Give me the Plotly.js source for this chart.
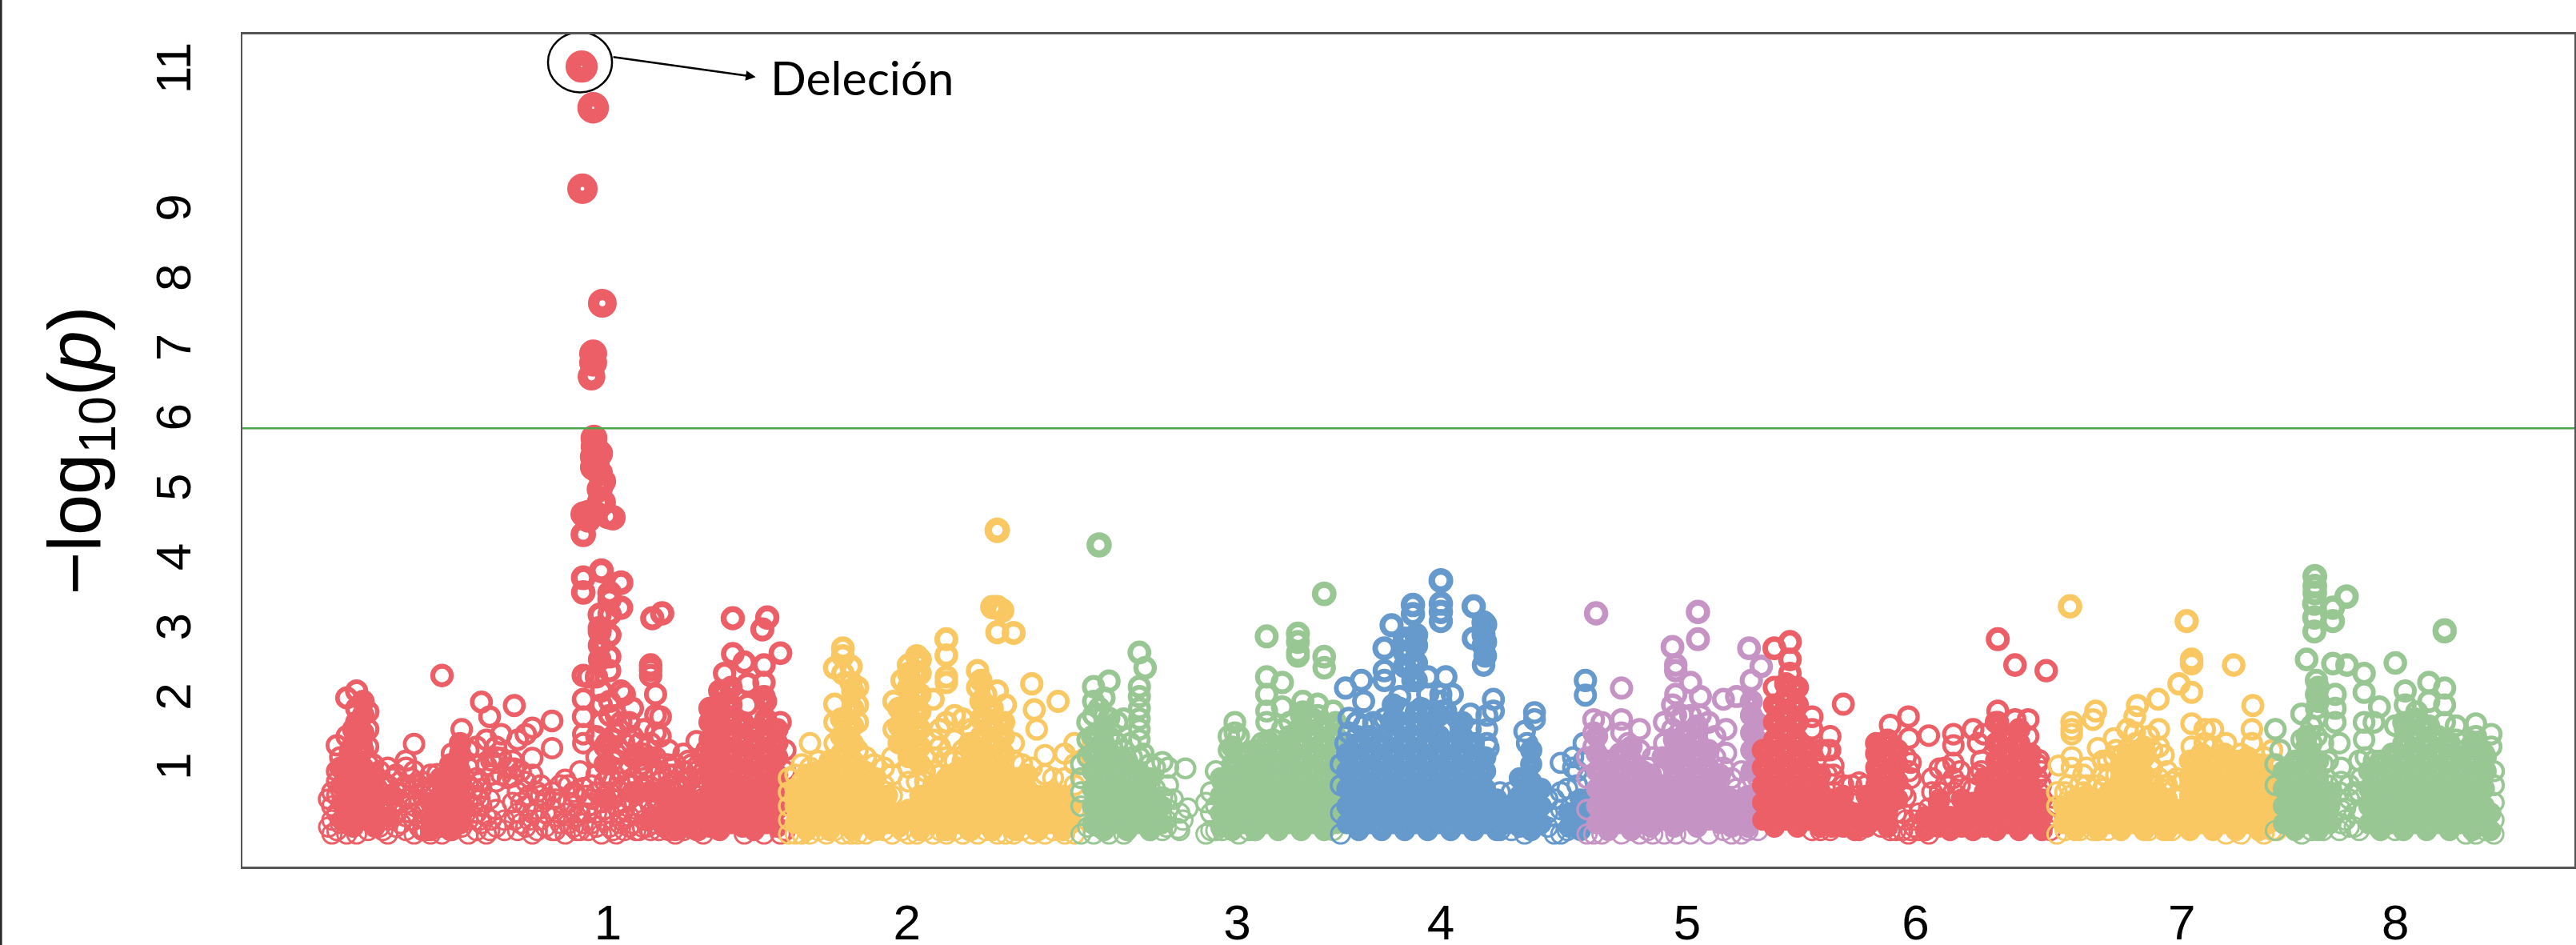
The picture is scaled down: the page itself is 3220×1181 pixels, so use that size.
<!DOCTYPE html>
<html><head><meta charset="utf-8">
<script src="https://cdn.plot.ly/plotly-3.0.1.min.js"></script>
<style>html,body{margin:0;padding:0;background:#fff}</style></head>
<body><div id="chart" style="width:3220px;height:1181px"></div>
<script>
const chromosomeLabels=["1","2","3","4","5","6","7","8"];
const chromosomeTicks=[370,552,753,877,1027,1166,1328,1458];
const yTickValues=[1,2,3,4,5,6,7,8,9,11];
const threshold=5.81;
const palette=["#EC5F67","#FAC863","#99C794","#6699CC","#C594C5","#EC5F67","#FAC863","#99C794"];

// each column: [position, -log10(p), -log10(p), ...]
const chr1Dense=[
[208,.2,.45,.7,.95],[215,.1,.35,.6,.85,1.1,1.3,1.5],[221,.2,.45,.7,.95,1.2,1.45,1.7,1.9],[228,.1,.35,.6,.85],[237,.25,.55],
[262,.05,.2,.45],[268,.1,.3,.55,.8],[274,.05,.25,.5,.75,1],[280,.15,.4,.65,.9,1.15,1.3],
[365,2.5,2.7,2.9],[369,1,1.3,.5],[385,.6,1.1],[395,.2,.6,1.1],
[404,.1,.3,.55],[411,.05,.25,.5],[418,.1,.3,.55],[425,.05,.25,.45],[432,.1,.35,.6,.85,1.1,1.35,1.6,1.8],
[438,.05,.3,.55,.8,1.05,1.3,1.55,1.8,2.05],[445,.15,.4,.65,.9,1.15,1.4,1.65,1.85,2.1],[452,.1,.35,.6,.85,1.1,1.35,1.6],
[459,.05,.3,.55,.8,1.05,1.3,1.5],[466,.15,.4,.65,.9,1.15,1.4,1.65,1.9],[473,.1,.35,.6,.85,1.1,1.3,1.5]];
const chr1Rings=[
[200,.1,.5],[202,0,.2,.4,.6],[205,.05,.3,.55,.75,.9,1.27],[207,.15,.65,.95,1.1],[211,0,.15,.4,.8,1,1.4,1.95],[213,.55,.9,1.2],[217,0,.25,.5,.75,1,1.6,1.8,2.05],[220,.3,.6,.85,1.3],[224,.05,.3,.55,.8,1,1.25,1.5,1.75],[227,.2,.45,.7,1],
[231,.1,.35,.6,.9],[233,.05,.3,.75],[236,0,.2,.45,.7,.95],[239,.4,.55,.8],[241,.1,.3,.6,.85],[244,.15,.45,.65],[247,.05,.25,.5,.7,.95,1.05],[250,.3,.55,.8],[252,0,.2,.4,.65,.9,1.29],[255,.1,.45,.7],[257,.05,.3,.55,.75],[259,.05,.2,.35,.6],
[262,0,.6,.85],[266,.86,.1],[269,2.27,0,.4],[275,.05,1.15],[281,1.5,.1,.35],[285,0,.2,.45,.7,.95,1.2],[288,.4,.65],[290,.05,.3,.55,.8,1,1.25],[292,.2,.5,.75],
[293,1.89,.15,.4,.65],[296,.98,1.35,0,.25],[298,1.68,.05,.5],[299,.2,.85,1.05],[302,.1,.35,.75,1.1,1.25],[305,1.43,1.09,.85],[307,.05,.2],[309,.95,.8],[312,.82,1.05,.45],[313,1.84,.94,.2],
[315,1.35,.3,.05,.6],[317,.15,.45,.9],[320,1.43,.75,.1,.4],[322,.2,.55],[324,1.52,1.09,.85,0,.3],[327,.05,.35,.6],[329,.2,.55,.7],[332,.1,.3,.5],[336,1.62,1.23,.05,.35,.6],[338,.05,.25,.5],[341,.15,.45,.7],[344,.78,0,.3],[346,.15,.45,.7],[349,.1,.4,.6],[351,.05,.25,.55],[353,.9,.05,.3],
[355,2.27,1.93,1.68,1.43,1.3,.66,.15],[357,.3,.55],[358,2.25,.05,.4],[360,.15,.5,.7],[363,2.25,1.1,1.4,.1,.3,.6,.85],[366,1.6,1.85,2.05,0,.45],[368,.2,.35,.55,.75,1,1.25],[371,2.34,2.54,2.85,1.9,1.7,.1,.3,.6,.85],[373,.05,.5,.75,1.05,1.35],[375,1.15,1.45,1.7,0,.4],[377,.15,.3,.75,1.2,1.5],
[378,3.6,3.24,1.6,2.05,.2,.6,.9],[380,2,1.3,.05,.35],[383,.1,.25,.5,.7,1,1.6],[385,1.8,1.4,.15,.8],[387,.05,.3,.6,1.1],[389,1.3,.95,.05,.4,.6],[391,.1,.35,.65,1],[392,1.5,1.15,.2,.8],[394,.1,.5,.95],[396,2.42,2.35,2.27,1.3,.05,.4],[397,3.09],[398,.15,.35],[399,2,1.7,1.45,1.1,.85,.6],[401,.05,.25,.5],[402,1.68,1.4,.9,.75],[403,3.16],[406,.2,.4,.6,1],[407,1.2,.85,.7,.05],[410,.35,.6,.85],[411,1,.75,0],[414,.15,.35,.7],[416,1.15,.9,.65,.05],[419,.2,.4,.75,1.05],[421,1,.8,.6],[423,.15,.45,.65],[424,1.33,.9,.05],[427,.1,.3,.5],[428,1.1,.8,.65,0],[430,.2,.45,.85,1.2],
[441,2.3],[446,3.09,2.58],[453,2.46,0],[455,2.15,1.85],[464,2.93],[465,2.42,2.17,1.97,0],[467,3.1],[475,2.59,1.6,0],[478,.05,.3,.6,.9,1.2,.45],
[355,4.29,3.46,3.67,4.58],[354,10.99],[361,10.4],[354.5,9.24],[366.6,7.6],[361,6.88,6.75],[360,6.55],[361.5,5.67,5.55],[363,5.5,5.4,5.3],[361,5.4,5.25],[365,5.45,5.17,4.94,4.75],[367,5.05,4.75],[358,4.6,4.5],[362,4.6],[373,4.53],[370,4.55],[366,3.77],[371,3.36,3.15,3.45],[365,3.14,2.95]];

const chr2Dense=[
[484,.15,.4,.65],[491,.05,.3,.55,.85],[498,.15,.4,.65,.9],[505,.05,.3,.55,.8,1.05],[512,.15,.4,.65,.9,1.15,1.4,1.65],[519,.05,.3,.55,.8,1.05,1.3,1.55,1.8,2.05],[526,.15,.4,.65,.9],[533,.05,.3,.55,.8],
[540,.15,.35,.55],[547,.1,.3,1.3,1.55,1.8],[553,.2,.35,1.1,1.35,1.6,1.85,2.1,2.3],[560,.05,.3,.55,1,1.25,1.5,1.75,2,2.3,2.5],
[569,.15,.4,.65],[576,.05,.3,.55,.8],[583,.15,.4,.65,.9],[590,.05,.3,.55,.8,1,1.3],[597,.15,.4,.65,.9,1.15,1.4,1.65,1.9,2.2],[604,.05,.3,.55,.8,1.05,1.3,1.55,1.8],[611,.15,.4,.65,.9,1.15,1.4,1.6],[618,.05,.3,.55,.8],[625,.15,.4,.65,.85],[632,.05,.3,.55],[640,.15,.4,.6],[647,.05,.3,.55],[652,.15,.4]];
const chr2Rings=[
[480,0,.2,.4,.6,.8],[484,0,.55,.85],[488,0,.75,1],[493,1.3,0,.95],[498,.05,1.05],[503,0,.95],[508,2.38,1.86,1.6,1.3,.05],[513,2.66,2.55,2.3,0],[518,2.4,2.17,0],[522,2.1,1.85,1.6,1.2,0],[527,1.1,.85,0],[532,1,.05],[538,.95,.7,.05],[543,.85,1.1,.55,0],[544,1.9,1.5],[549,2.2,.05],[553,2.42,.95,.75,0],[558,2.55,.75,0],[563,.9,1.1,.05,.35,.75],[568,1.93,1.35,1.1,.9,0,.7],[572,1.5,1.25,.85,.05],[576,2.79,2.56,2.25,2.17,1.6,1.1,0],[581,1.7,1.35,1.05,.05],[586,1.65,1.2,1.05,0],[591,1.5,1.2,.05],[595,2.34,2.1,0],[600,2,.05,1.1],[607,4.35,3.25,2.89,2.05,0],[604,3.25],[610,3.2],[612,1.85,0],[617,2.88,1.3,1.05,0],[622,1,.05],[628,2.15,.95,0],[629.5,1.78],[631,1.5,.05],[636,1.13,.85,0],[641,.8,.05],[644,1.9],[648,1.15,.8,0],[654,1.3,1,.7,.35,0]];

const chr3Dense=[
[665,.15,.4,.65,.9,1.15,1.4],[672,.05,.3,.55,.8,1.05,1.3,1.55],[679,.15,.4,.65,.9,1.1],[686,.05,.3,.55,.8,1.05],[693,.15,.4,.65,.9],[700,.05,.3,.55,.8],[707,.15,.4],
[743,.1,.3,.55,.8],[750,.05,.25,.5,.75,1,1.25],[757,.15,.4,.65,.9,1.15],[764,.05,.3,.55,.8,1,1.2],[771,.15,.4,.65,.9,1.1,1.3],[778,.05,.3,.55,.8,1,1.2],[785,.15,.4,.65,.9,1.15,1.4],[792,.05,.3,.55,.8,1.05,1.3,1.55,1.7],[799,.15,.4,.65,.9,1.15,1.4,1.65],[806,.05,.3,.55,.8,1.05,1.3,1.55],[813,.15,.4,.65,.9,1.15,1.4,1.6]];
const chr3Rings=[
[658,0,.4,.8,1,.6],[662,.1,1.1,1.35,1.6],[665.6,2.11,1.9,1.7,0],[669,4.14,1.8,.1],[672,1.95,1.7],[675,2.19,1.66,1.4,0],[676,.2,.5,1.15],[680,1.6,1.3],[684,1.65,1.2,0],[688,1.3],[689,.25,.5,.85,1.1],[693.5,2.6,2.11,1.97,1.8,1.65,1.5,1.35,1.1],[696,.3,.7,1.15],[697,2.38],[700,1,.05],[703,.95,.65],[704,.2,.45],[707.5,1.03,.53,.05],[710,.1,.2,.5],[711,.95,.7,.35],[714,.5],[717,.08],[718,.05,.3],[720,.2],[721.5,.94],[723,.37],
[734,0,.45],[737,.05,.3,.6],[740,.9,.05,.4],[744,.05,.55,.75],[748,1.2,1.4],[751.6,1.6,1.45],[754,1.4,1.15,0],[760,1,.85,.05],[764,.85,.05],[768,1.3,1,.75],[771,2.83,2.25,2,1.76,1.6,1.25],[775,1.35,.85],[780.5,2.17,1.82,1.5,1.05],[785,1.6],[790,2.87,2.75,2.6,2.55],[793,1.9,1.75],[802,1.86,1.7],[806,3.44,2.54,2.38],[811.5,1.76,.05,.5]];

const chr4Dense=[
[820,.15,.4,.65,.9,1.15],[827,.05,.3,.55,.8,1.05,1.3],[834,.15,.4,.65,.9,1.15,1.4],[841,.05,.3,.55,.8,1.05,1.3],[848,.15,.4,.65,.9,1.15,1.4,1.65,1.85],[855,.05,.3,.55,.8,1.05,1.3,1.55,2.4,2.6,2.8],[862,.15,.4,.65,.9,1.15,1.4,1.75,2.2,2.45,2.7,2.85],[869,.05,.3,.55,.8,1.05,1.3,1.55],[876,.15,.4,.65,.9,1.15,1.4,1.7],[883,.05,.3,.55,.8,1.05,1.3],[890,.15,.4,.65,.9,1.15,1.4,1.6],[897,.05,.3,.55,.8,1.05,1.3],[904,.15,.4,.65,.9,1.1,2.55,2.75,3.0],[911,.05,.3,.5],[918,.15,.4],
[925,.1,.3,.55,.8],[932,.05,.25,.5,.75,1,1.2],[938,.15,.4,.65],[955,.1,.3],[962,.05,.25,.5]];
const chr4Rings=[
[816,0,.3,.7,1],[819,2.09,1.3],[821,1.66,1.45],[826,1.6,1.4],[828.6,2.2],[830,1.9,1.55],[836,1.55,1.6],[842.6,2.66,2.34,2.2,1.65],[847,2.99],[852,1.97,1.8,1.6],[860,3.28,3.15,2.2],[865,1.8,1.6],[869,2.25,2],[872,1.7],[877,3.63,3.3,3.18,3.05,2,1.9],[880,2.25,1.76],[884,2],[878,1.76,1.5],[890,1.35],[895,1.72,1.5],[897,3.26,2.8],[903,3.03,2.85,2.7,2.42],[905,1.3,1.5,1.7],[906,1.23],[909,1.93,1.76],[913,.6,.05],[920,.6,.05],[928,1.47,0],[929.5,1.3],[934,1.74,1.64],[942,.1,.3,.5],[946,0,.25,.5],[950,1.02,0,.35,.6],[954,.05,.65],[957.5,1.1,.95],[960,.7,.9],[964,1.3,1.05],[965,2.2,1.99]];

const chr5Dense=[
[972,.15,.4,.65,.9,1.15,1.4],[979,.05,.3,.55,.8,1.05],[986,.15,.4,.65,.9,1.15],[993,.05,.3,.55,.8,1.05,1.25],[1000,.15,.4,.65,.9],[1005,.1,.35,.6,.85],[1012,.2,.45,.7,1.1],[1019,.1,.35,.6,.85,1.1,1.35],[1026,.2,.45,.7,.95,1.2,1.45],[1033,.1,.35,.6,.85,1.1,1.35,1.55],[1040,.2,.45,.7,.95,1.2],[1047,.15,.35,.6,.85],[1054,.1,.3,.5],[1059,.2,.45],[1064,.1,.3,.55],[1066,.9,1.2,1.45,1.7,1.9],[1069,1.1,1.35,1.6]];
const chr5Rings=[
[966,0,.35,.8,1.1],[970,1.64,1.45,1.25,0],[971.5,3.16],[975,1.6,0],[987,2.09,1.64,1.45,0],[991,1.3],[998,1.5,1.2,0],[1003,.05,.4,.8,.95],[1006,0,.5,1.1],[1008,.2,.85],[1013,1.6,1.3,0],[1018,2.68,1.5,1.85],[1020,2.42,2.34,2,1.7,1.25,0],[1024,1.7],[1029,2.17,1.7,0],[1033.5,3.18,2.79],[1035,1.97,1.7],[1040,1.6,0],[1044,1.4,1.1],[1049,1.93,.05,.95],[1050.6,1.5,1.16],[1054,.8,0],[1057,1.97,.65],[1060,.5,.9,0,.25],[1064.6,2.66],[1066,2.2],[1064,.7,.3,.05],[1070,.4,.8,.05],[1072,2.4,.6]];

const chr6Dense=[
[1073,.2,.45,.7,.95,1.2],[1080,.1,.35,.6,.85,1.1,1.35,1.6,1.85],[1087,.2,.45,.7,.95,1.2,1.45,1.7,1.95,2.15],[1094,.1,.35,.6,.85,1.1,1.35,1.6,1.85,2.1],[1101,.2,.45,.7,.95,1.2],[1108,.1,.35,.6,.85],[1115,.1,.3,.5],[1122,.1,.3,.55],[1129,.05,.3],[1136,.1,.3,.55],[1142,.2,.45,.7,.95,1.15,1.3],[1149,.1,.35,.6,.85,1.1,1.35],[1155,.5,.75,1,1.2],
[1172,.05,.25],[1180,.1,.3,.45],[1187,.05,.25],[1194,.1,.3,.5],[1201,.05,.25,.45],[1208,.1,.35,.6,.8],[1215,.05,.3,.55,.8,1.05,1.3,1.6],[1222,.15,.4,.65,.9,1.15,1.4],[1229,.05,.3,.55,.8,1.05,1.3,1.5],[1236,.15,.4,.65,.9,1.15],[1243,.05,.25,.5]];
const chr6Rings=[
[1080,2.66,2.1],[1089.5,2.75,2.5,2.3],[1103,1.68,1.5,.05],[1108,1.2,.05],[1112,1.2,.85],[1114,1.4,1.2,.05],[1116,.98,.85,.6],[1122,1.86,.7],[1127,.7,.5],[1131.5,.74,.55,.05],[1136,.7],[1145,.1],[1150.5,1.56,.05],[1154,.05,.3],[1158,.05,.3,.6],[1160,.53,.2,1.1],[1161.6,1.68,0],[1162,1.37,.9],[1163,1.02,.8,.05],[1165,.1,.2],[1168,.05,.3],[1174,1.41,.37,0],[1176,.2,.6,.8],[1180.6,.94,.6,.5],[1184,.7,.95],[1189,1.43,1.27,1.02,.8,.6],[1193,.7,.9],[1201,1.5,.65],[1204,1.3,.85],[1206,1.05,.9],[1207.5,1.43],[1216,2.79,1.76,1.6],[1226.5,2.42,1.64],[1234.5,1.64,1.4],[1240,1,.8],[1241,1.06,.6],[1242.4,.9,.7],[1245.5,2.34,.2],[1248,.05,.25,.4]];

const chr7Dense=[
[1256,.15,.4],[1263,.05,.3,.5],[1270,.15,.35,.55],[1277,.05,.3,.5],[1284,.15,.35,.6],[1291,.05,.3,.55,.8,1],[1298,.15,.4,.65,.9,1.15],[1305,.05,.3,.55,.85,1.1,1.25],[1312,.15,.4,.6],[1319,.05,.3,.5],[1326,.15,.35],[1333,.05,.3,.55,.8,1.05],[1340,.15,.4,.65,.9,1.15],[1347,.05,.3,.55,.8,1.05],[1354,.15,.4,.65,.9,1.15],[1361,.05,.3,.55,.8,1.05],[1368,.15,.4,.65,.9,1.1],[1375,.05,.3,.55,.8,1],[1381,.15,.4,.65,.85]];
const chr7Rings=[
[1252,0,.4,.6],[1253,.98],[1257,.6,.05],[1259,.3,.7],[1260,3.26,.55],[1261,1.6,1.5,1.43,1.1,.95],[1266,.5,.7,.05],[1268,.45,.6,.85],[1270,.7,.95],[1274,1.64,.05],[1275.6,1.76],[1277,1.23,.7],[1280,.65,.85,1.05],[1283,1.05,.8,.05],[1286.7,1.37,1.1],[1288,.85,1.2],[1291,1.1],[1293,.9],[1295,1.2,1.5],[1299.4,1.68,1.45],[1300,1.05,1.3],[1301,1.84],[1308,1.4,.05],[1310,.75,.95,1.2],[1313.6,1.93],[1314,1.5,1.25,.8],[1317,1.13,.7,.05],[1319,.7,.9],[1322,.75,.05],[1325,.8,.55],[1326.3,2.15],[1329,.55,.75],[1331,3.05],[1334,2.44,2.5,2.03,1.58,1.25],[1342,1.5,1.3],[1347,1.5,1.25],[1355,1.3,0],[1359.6,2.42],[1364,1.15,0],[1370.7,1.5,1.3],[1371.3,1.84],[1378,1.1,0],[1383,1.2,.05,1],[1386,.05,.4,.7]];

const chr8Dense=[
[1390,.15,.4,.65,.9],[1397,.05,.3,.55,.8,1.05],[1404,.15,.4,.65,.9,1.1,1.25,1.4],[1411,.05,.3,.55,.8,1.05,1.9,2.1],[1418,.15,.4,.6],
[1442,.15,.4,.65,.9],[1449,.05,.3,.55,.8,1.05],[1456,.15,.4,.65,.9,1.15],[1463,.05,.3,.55,.8,1.05,1.3,1.6],[1470,.15,.4,.65,.9,1.15,1.4,1.65],[1477,.05,.3,.55,.8,1.05,1.3,1.55],[1484,.15,.4,.65,.9,1.15,1.4],[1491,.05,.3,.55,.8,1.05,1.3],[1498,.15,.4,.65,.9,1.1],[1505,.05,.3,.55,.8,1.05,1.3],[1512,.15,.4,.65,.9,1.15],[1516,.05,.3]];
const chr8Rings=[
[1385,1.5,.05,.7,1],[1388,1.2],[1401,1.72,1.35,0],[1404,2.5],[1407,1.3,1.55,.05],[1408.7,3.3,3.1,2.9],[1409,3.69,3.55,3.45],[1410,2.2,2,1.8,1.65,1.4],[1414,1.3,1,.05],[1417,1.05,.7],[1420,3.24,3.05,2.44],[1421.4,2,1.8,1.6],[1424,1.3,.6,.05],[1425,.15,.35,.75,.95],[1427.7,.37,.2],[1428.3,3.4],[1428.6,2.42],[1430,.1,.5,.7],[1433,.3,.1,.6],[1436,1.05,.6,.05],[1437,.3,.8],[1439,2.3,2.03,1.6,1.35],[1440,1.1],[1445,1.6,1.05],[1448.3,1.82],[1458,2.45,1.55,.05],[1464,2.05,1.85,1.5],[1471,1.75],[1478.4,2.17,1.9,1.55],[1488,2.9,2.92,2.09,1.85,1.6],[1495,1.55,1.35],[1501,1.2,0],[1507,1.58,1.4,1.1,0],[1513,.9,1.1,.05],[1516.4,1.43,1.25],[1518,.9,.7,.45,.2,0]];

const denseSets=[chr1Dense,chr2Dense,chr3Dense,chr4Dense,chr5Dense,chr6Dense,chr7Dense,chr8Dense];
const ringSets=[chr1Rings,chr2Rings,chr3Rings,chr4Rings,chr5Rings,chr6Rings,chr7Rings,chr8Rings];

function traceFor(i){
  const x=[],y=[],size=[],width=[];
  const push=(cols,dense)=>cols.forEach(c=>c.slice(1).forEach(v=>{
    const outer=26.5+1.25*v, stroke=dense?Math.max(13.5,4+1.5*v):2.8+1.5*v;
    x.push(c[0]);y.push(v);size.push(outer-stroke);width.push(stroke);
  }));
  push(denseSets[i],true);push(ringSets[i],false);
  return {type:"scatter",mode:"markers",x,y,showlegend:false,hoverinfo:"skip",cliponaxis:false,
    marker:{symbol:"circle-open",opacity:1,color:palette[i],size,line:{width,color:palette[i]}}};
}
const traces=chromosomeLabels.map((_,i)=>traceFor(i));

const layout={
  width:3220,height:1181,paper_bgcolor:"#fff",plot_bgcolor:"#fff",showlegend:false,
  margin:{l:303,r:2,t:43,b:98,pad:0},
  font:{family:"Liberation Sans, Arial, sans-serif",color:"#000"},
  xaxis:{range:[147.5,1567],tickmode:"array",tickvals:chromosomeTicks,ticktext:chromosomeLabels,ticks:"",showgrid:false,zeroline:false,
    showline:true,mirror:true,linecolor:"#555",linewidth:3,tickfont:{size:62,color:"#000"},ticklabelstandoff:14},
  yaxis:{range:[-0.466,11.45],tickmode:"array",tickvals:yTickValues,ticktext:yTickValues.map(String),ticks:"",showgrid:false,zeroline:false,
    showline:true,mirror:true,linecolor:"#555",linewidth:2,tickangle:-90,tickfont:{size:62,color:"#000"},ticklabelstandoff:38,ticklabelshift:12,
    title:{text:"\u2212log<sub>10</sub>(<i>p</i>)",font:{size:92,color:"#000"},standoff:26}},
  shapes:[
    {type:"line",xref:"x domain",yref:"y",x0:0,x1:1,y0:threshold,y1:threshold,line:{color:"#4CA64C",width:2.5}},
    {type:"circle",xref:"x",yref:"y",x0:333.5,x1:372.5,y0:10.62,y1:11.48,line:{color:"#000",width:2.5},fillcolor:"rgba(0,0,0,0)"},
    {type:"line",xref:"paper",yref:"paper",x0:-0.1035,x1:-0.1035,y0:-0.1,y1:1.05,line:{color:"#222",width:2.5}}
  ],
  annotations:[
    {xref:"x",yref:"y",axref:"x",ayref:"y",x:460,y:10.84,ax:372.5,ay:11.13,text:"",showarrow:true,arrowhead:2,arrowsize:1,arrowwidth:2.5,arrowcolor:"#000"},
    {xref:"x",yref:"y",x:468,y:10.84,xanchor:"left",yanchor:"middle",text:"Deleci\u00f3n",showarrow:false,font:{family:"Lato, sans-serif",size:59,color:"#000"}}
  ]
};
Plotly.newPlot("chart",traces,layout,{displayModeBar:false,staticPlot:true});
</script></body></html>
